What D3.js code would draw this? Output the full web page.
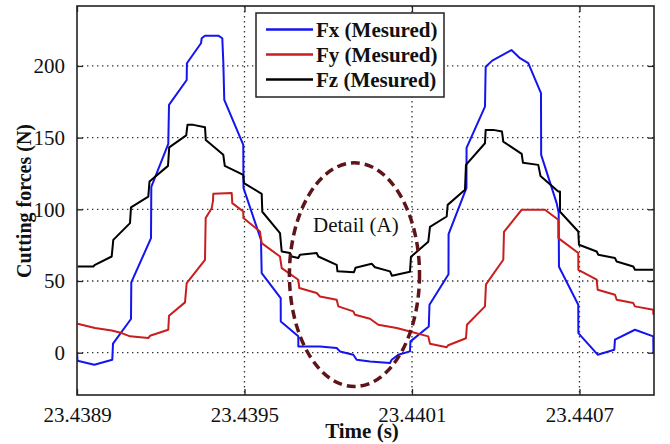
<!DOCTYPE html>
<html><head><meta charset="utf-8">
<script src="https://cdn.jsdelivr.net/npm/d3@7"></script>
<style>
html,body{margin:0;padding:0;background:#fff;}
svg text{font-family:"Liberation Serif","Times New Roman",serif;}
</style></head>
<body><svg id="c" width="670" height="444"></svg>
<script>
// ---- data ----
const xTicks = [23.4389, 23.4395, 23.4401, 23.4407];
const xTickLabels = ["23.4389", "23.4395", "23.4401", "23.4407"];
const yTicks = [0, 50, 100, 150, 200];
const yTickLabels = ["0", "50", "100", "150", "200"];
const seriesNames = ["Fx (Mesured)", "Fy (Mesured)", "Fz (Mesured)"];

const fxTime = [23.4389000,23.4389018,23.4389620,23.4390264,23.4390290,23.4390934,23.4390945,23.4391651,23.4391662,23.4392270,23.4392296,23.4392930,23.4392937,23.4393442,23.4393467,23.4393585,23.4394061,23.4394205,23.4394241,23.4394276,23.4394957,23.4394964,23.4395591,23.4395616,23.4396297,23.4396300,23.4396927,23.4396930,23.4397705,23.4398303,23.4398421,23.4398897,23.4399019,23.4399496,23.4400212,23.4400273,23.4400509,23.4400928,23.4400946,23.4401602,23.4401627,23.4402308,23.4402311,23.4402952,23.4402955,23.4403615,23.4403640,23.4403876,23.4403973,23.4404564,23.4404869,23.4405166,23.4405621,23.4405628,23.4406183,23.4406255,23.4406266,23.4406957,23.4406960,23.4407652,23.4408247,23.4408272,23.4408988,23.4409644,23.4409651];
const fxValue = [0.7,-5.6,-8.4,-4.9,6.3,23.5,49.0,79.9,115.7,145.6,172.8,190.2,201.9,215.8,219.3,221.1,221.1,219.3,203.0,176.3,144.9,115.0,78.7,55.5,38.1,21.8,11.4,4.4,4.4,3.3,0.9,-1.4,-4.9,-6.1,-7.2,-4.9,-1.4,0.9,7.9,18.3,33.4,54.7,82.7,115.0,142.9,171.6,199.5,203.7,204.7,211.1,205.4,201.9,181.0,138.0,104.3,97.6,59.9,33.4,13.7,-1.4,2.1,9.1,16.0,11.4,-0.2];

const fyTime = [23.4389018,23.4389645,23.4390243,23.4390601,23.4390899,23.4391554,23.4391615,23.4392270,23.4392296,23.4392869,23.4392930,23.4393585,23.4393610,23.4393825,23.4393872,23.4393882,23.4394542,23.4394563,23.4394957,23.4394960,23.4395555,23.4395616,23.4396272,23.4396333,23.4396927,23.4396963,23.4397586,23.4397705,23.4398303,23.4398360,23.4398897,23.4398958,23.4399496,23.4399793,23.4400452,23.4400928,23.4401584,23.4401645,23.4402243,23.4402300,23.4402934,23.4402970,23.4403615,23.4403651,23.4404271,23.4404296,23.4404690,23.4404930,23.4405764,23.4406241,23.4406245,23.4406957,23.4406960,23.4407616,23.4407652,23.4408272,23.4408333,23.4408927,23.4408988,23.4409644,23.4409648];
const fyValue = [20.2,17.2,15.5,13.7,11.4,10.2,11.8,16.0,25.8,35.1,48.6,64.8,93.9,100.8,105.9,110.8,111.3,104.3,98.5,93.9,84.5,76.4,67.1,59.0,50.9,45.1,41.6,39.2,36.9,32.3,28.8,26.5,23.7,19.5,17.2,14.8,11.4,6.3,3.8,5.2,10.1,19.5,32.3,47.7,64.8,84.3,93.9,99.7,99.7,92.7,79.9,69.5,57.8,50.9,43.9,40.4,36.9,34.6,32.3,30.0,26.5];

const fzTime = [23.4389018,23.4389584,23.4389645,23.4390243,23.4390300,23.4390899,23.4390934,23.4391554,23.4391597,23.4392260,23.4392303,23.4392912,23.4392958,23.4393166,23.4393585,23.4393614,23.4394241,23.4394294,23.4394957,23.4394982,23.4395616,23.4395638,23.4396272,23.4396333,23.4396630,23.4396691,23.4396927,23.4396988,23.4397586,23.4397644,23.4398303,23.4398331,23.4398922,23.4398976,23.4399557,23.4399675,23.4400212,23.4400284,23.4400928,23.4400964,23.4401584,23.4401645,23.4402243,23.4402279,23.4402899,23.4402934,23.4403615,23.4403640,23.4403912,23.4404224,23.4404271,23.4404930,23.4404976,23.4405524,23.4405603,23.4406241,23.4406302,23.4406305,23.4406957,23.4406982,23.4407616,23.4407674,23.4408272,23.4408333,23.4408927,23.4408988,23.4409644];
const fzValue = [60.1,60.1,61.3,67.1,78.7,90.4,101.4,108.9,119.4,130.3,143.2,151.6,158.9,158.9,157.3,148.4,138.0,130.3,124.0,118.3,110.8,98.3,83.4,70.6,69.5,67.1,66.0,68.3,69.5,67.1,61.3,56.8,56.1,59.2,62.0,59.6,56.7,53.7,56.4,66.9,77.4,87.8,95.0,103.1,113.6,131.0,146.1,155.4,155.4,154.2,147.2,138.7,132.4,131.0,123.3,112.4,112.4,98.3,84.5,75.3,70.6,68.3,66.0,63.6,60.1,57.8,57.8];

// annotation (Detail A ellipse) in data units
const detailCenter = [23.4398940, 54.4];
const detailRadius = [0.000233, 78];
const detailLabel = "Detail (A)";

// ---- layout ----
const W = 670, H = 444;
const m = {left: 77, top: 6, right: 16, bottom: 49};
const iw = W - m.left - m.right, ih = H - m.top - m.bottom;
const colors = ["#1414f0", "#c81e1e", "#000000"];

const svg = d3.select("#c");
const x = d3.scaleLinear().domain([23.4389, 23.440967]).range([m.left, m.left + iw]);
const y = d3.scaleLinear().domain([-29.5, 241.8]).range([m.top + ih, m.top]);

svg.append("defs").append("clipPath").attr("id", "pc")
  .append("rect").attr("x", m.left).attr("y", m.top).attr("width", iw).attr("height", ih);

// grid
const grid = svg.append("g").attr("stroke", "#333").attr("stroke-width", 1.3)
  .attr("stroke-dasharray", "1.4,3.6");
grid.selectAll("line.gx").data(xTicks.slice(1)).join("line")
  .attr("x1", d => x(d)).attr("x2", d => x(d)).attr("y1", m.top).attr("y2", m.top + ih);
grid.selectAll("line.gy").data(yTicks).join("line")
  .attr("y1", d => y(d)).attr("y2", d => y(d)).attr("x1", m.left).attr("x2", m.left + iw);

// series
const series = [
  {t: fxTime, v: fxValue},
  {t: fyTime, v: fyValue},
  {t: fzTime, v: fzValue}
];
const line = d3.line().x(d => x(d[0])).y(d => y(d[1]));
const pg = svg.append("g").attr("clip-path", "url(#pc)");
series.forEach((s, i) => {
  pg.append("path").datum(s.t.map((t, j) => [t, s.v[j]]))
    .attr("d", line).attr("fill", "none").attr("stroke", colors[i])
    .attr("stroke-width", 2).attr("stroke-linejoin", "round");
});

// ellipse annotation
svg.append("ellipse")
  .attr("cx", x(detailCenter[0])).attr("cy", y(detailCenter[1]))
  .attr("rx", x(detailCenter[0] + detailRadius[0]) - x(detailCenter[0]))
  .attr("ry", y(detailCenter[1]) - y(detailCenter[1] + detailRadius[1]))
  .attr("fill", "none").attr("stroke", "#5e1519").attr("stroke-width", 3.5)
  .attr("stroke-dasharray", "9,5");
svg.append("text").attr("x", 313).attr("y", 232).attr("font-size", 21)
  .attr("fill", "#111").text(detailLabel);

// axes (box with inward ticks)
const tickLen = 6;
const axB = svg.append("g").attr("transform", `translate(0,${m.top + ih})`)
  .call(d3.axisBottom(x).tickValues(xTicks).tickFormat((d, i) => xTickLabels[i]).tickSizeInner(-tickLen).tickSizeOuter(0).tickPadding(12));
const axT = svg.append("g").attr("transform", `translate(0,${m.top})`)
  .call(d3.axisTop(x).tickValues(xTicks).tickFormat("").tickSizeInner(-tickLen).tickSizeOuter(0));
const axL = svg.append("g").attr("transform", `translate(${m.left},0)`)
  .call(d3.axisLeft(y).tickValues(yTicks).tickFormat((d, i) => yTickLabels[i]).tickSizeInner(-tickLen).tickSizeOuter(0).tickPadding(12));
const axR = svg.append("g").attr("transform", `translate(${m.left + iw},0)`)
  .call(d3.axisRight(y).tickValues(yTicks).tickFormat("").tickSizeInner(-tickLen).tickSizeOuter(0));
[axB, axT, axL, axR].forEach(a => {
  a.select(".domain").remove();
  a.selectAll(".tick line").attr("stroke", "#222").attr("stroke-width", 1.3);
  a.selectAll("text").attr("font-size", 21).attr("fill", "#111")
    .attr("font-family", '"Liberation Serif","Times New Roman",serif');
});
axB.selectAll("text").attr("dy", "0.71em");
svg.append("rect").attr("x", m.left).attr("y", m.top).attr("width", iw).attr("height", ih)
  .attr("fill", "none").attr("stroke", "#222").attr("stroke-width", 1.6);

// legend
const lg = svg.append("g");
lg.append("rect").attr("x", 256).attr("y", 13).attr("width", 188).attr("height", 84)
  .attr("fill", "#fff").attr("stroke", "#222").attr("stroke-width", 1.5);
seriesNames.forEach((n, i) => {
  const yy = 29.5 + i * 25;
  lg.append("line").attr("x1", 266).attr("x2", 313).attr("y1", yy).attr("y2", yy)
    .attr("stroke", colors[i]).attr("stroke-width", 2.5);
  lg.append("text").attr("x", 316).attr("y", yy + 7).attr("font-size", 21)
    .attr("font-weight", "bold").attr("fill", "#111").text(n);
});

// axis titles
svg.append("text").attr("x", 362).attr("y", 438).attr("text-anchor", "middle")
  .attr("font-size", 21).attr("font-weight", "bold").attr("fill", "#111").text("Time (s)");
svg.append("text").attr("transform", "translate(31,201) rotate(-90)").attr("text-anchor", "middle")
  .attr("font-size", 20).attr("font-weight", "bold").attr("fill", "#111").text("Cutting forces (N)");
</script></body></html>
